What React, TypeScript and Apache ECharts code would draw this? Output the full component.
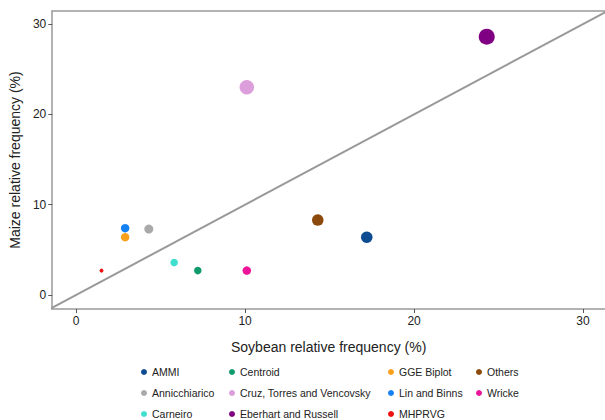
import React, { useEffect, useRef } from "react";
import * as echarts from "echarts";

const methods = [
  "AMMI",
  "Annicchiarico",
  "Carneiro",
  "Centroid",
  "Cruz, Torres and Vencovsky",
  "Eberhart and Russell",
  "GGE Biplot",
  "Lin and Binns",
  "MHPRVG",
  "Others",
  "Wricke",
];
const soybean = [17.2, 4.3, 5.8, 7.2, 10.1, 24.3, 2.9, 2.9, 1.5, 14.3, 10.1];
const maize = [6.4, 7.3, 3.6, 2.7, 23.0, 28.6, 6.4, 7.4, 2.7, 8.3, 2.7];
const xTicks = [0, 10, 20, 30];
const yTicks = [0, 10, 20, 30];

const colors = [
  "#0d4c91",
  "#a9a9a9",
  "#3fdfcf",
  "#0f9b6b",
  "#dc9fdc",
  "#800083",
  "#f9a11c",
  "#1681f2",
  "#ee1111",
  "#8b4a0c",
  "#ee1499",
];
const markerSizes = [11.5, 9, 7.5, 7.5, 14.5, 16, 8.5, 8.5, 4, 11.5, 8.5];

const legendColumns = [
  { left: 141, items: methods.slice(0, 3) },
  { left: 229, items: methods.slice(3, 6) },
  { left: 388, items: methods.slice(6, 9) },
  { left: 476, items: methods.slice(9, 11) },
];

const FONT = "Liberation Sans, Arial, sans-serif";

export default function App() {
  const ref = useRef<HTMLDivElement>(null);
  useEffect(() => {
    document.body.style.margin = "0";
    document.body.style.overflow = "hidden";
    if (!ref.current) return;
    const chart = echarts.init(ref.current, undefined, { renderer: "svg" });
    const axisLine = { show: true, lineStyle: { color: "#999999", width: 1.5 } };
    const series: any[] = methods.map((m, i) => ({
      name: m,
      type: "scatter",
      data: [[soybean[i], maize[i]]],
      symbolSize: markerSizes[i],
      itemStyle: { color: colors[i], opacity: 1 },
      z: 3,
    }));
    series.unshift({
      name: "y = x",
      type: "line",
      data: [
        [-2, -2],
        [33, 33],
      ],
      symbol: "none",
      lineStyle: { color: "#999999", width: 2 },
      clip: true,
      z: 2,
    });
    chart.setOption({
      animation: false,
      textStyle: { fontFamily: FONT },
      grid: { left: 50, right: 0, top: 11, bottom: 111 },
      xAxis: [
        {
          type: "value",
          min: -1.414,
          max: 31.3,
          axisLine: { ...axisLine, onZero: false },
          axisTick: { show: true, customValues: xTicks, length: 4, lineStyle: { color: "#555" } },
          axisLabel: { customValues: xTicks, color: "#222", fontSize: 12, margin: 6, fontFamily: FONT },
          splitLine: { show: false },
          name: "Soybean relative frequency (%)",
          nameLocation: "middle",
          nameGap: 31,
          nameTextStyle: { color: "#222", fontSize: 14, fontFamily: FONT },
        },
        {
          type: "value",
          position: "top",
          min: -1.414,
          max: 31.3,
          axisLine: { ...axisLine, onZero: false },
          axisTick: { show: false },
          axisLabel: { show: false },
          splitLine: { show: false },
        },
      ],
      yAxis: {
        type: "value",
        min: -1.55,
        max: 31.44,
        axisLine: { ...axisLine, onZero: false },
        axisTick: { show: true, customValues: yTicks, length: 4, lineStyle: { color: "#555" } },
        axisLabel: { customValues: yTicks, color: "#222", fontSize: 12, margin: 6, fontFamily: FONT },
        splitLine: { show: false },
        name: "Maize relative frequency (%)",
        nameLocation: "middle",
        nameGap: 22,
        nameTextStyle: { color: "#222", fontSize: 14, fontFamily: FONT },
      },
      legend: legendColumns.map((c) => ({
        data: c.items,
        orient: "vertical",
        left: c.left,
        top: 365,
        height: 80,
        icon: "circle",
        itemWidth: 6,
        itemHeight: 6,
        itemGap: 7,
        padding: 0,
        selectedMode: false,
        textStyle: { color: "#222", fontSize: 10.5, lineHeight: 14, fontFamily: FONT },
      })),
      series,
    });
    return () => chart.dispose();
  }, []);
  return <div ref={ref} style={{ width: 605, height: 420 }} />;
}
